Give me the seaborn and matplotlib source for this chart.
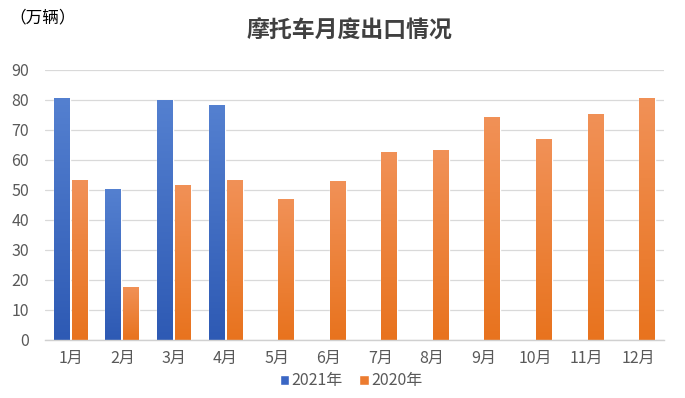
import numpy as np
import pandas as pd
import matplotlib
matplotlib.use("Agg")
import matplotlib.pyplot as plt
import seaborn as sns
from matplotlib.colors import LinearSegmentedColormap

months = ["1月", "2月", "3月", "4月", "5月", "6月", "7月", "8月", "9月", "10月", "11月", "12月"]
series_names = ["2021年", "2020年"]
values_2021 = [80.8, 50.3, 80.0, 78.3]
values_2020 = [53.3, 17.7, 51.7, 53.3, 47.0, 53.0, 62.7, 63.3, 74.3, 67.0, 75.4, 80.7]
yticks = [0, 10, 20, 30, 40, 50, 60, 70, 80, 90]

rows = []
for m, v in zip(months, values_2021):
    rows.append({"month": m, "series": "2021年", "value": v})
for m, v in zip(months, values_2020):
    rows.append({"month": m, "series": "2020年", "value": v})
df = pd.DataFrame(rows)

sns.set_theme(style="white")
plt.rcParams["font.family"] = ["Noto Sans CJK SC", "DejaVu Sans"]

base_colors = {"2021年": "#3A66C4", "2020年": "#EC7C30"}
grad = {
    "2021年": ("#5480D0", "#2E5AB4"),
    "2020年": ("#F19157", "#E8731E"),
}

fig = plt.figure(figsize=(6.85, 3.98), dpi=100)
ax = fig.add_axes([45 / 685, 58 / 398, 619 / 685, 270 / 398])

sns.barplot(data=df, x="month", y="value", hue="series", order=months,
            hue_order=series_names, palette=base_colors, width=0.70, gap=0.114,
            errorbar=None, ax=ax, legend=True, saturation=1)

# gradient fill per bar
for patch in list(ax.patches):
    x0, y0 = patch.get_x(), patch.get_y()
    w, h = patch.get_width(), patch.get_height()
    if not np.isfinite(h) or h <= 0:
        continue
    r, g, b, a = patch.get_facecolor()
    key = "2021年" if b > r else "2020年"
    cmap = LinearSegmentedColormap.from_list("g", [grad[key][1], grad[key][0]])
    img = np.linspace(0, 1, 100).reshape(-1, 1)
    im = ax.imshow(img, extent=[x0, x0 + w, y0, y0 + h], origin="lower",
                   aspect="auto", cmap=cmap, zorder=patch.get_zorder() + 0.1)
    im.set_clip_path(patch)

ax.set_xlim(-0.5, len(months) - 0.5)
ax.set_ylim(0, 90)
ax.set_yticks(yticks)
ax.yaxis.grid(True, color="#D9D9D9", linewidth=0.9)
ax.set_axisbelow(True)
for s in ["top", "right", "left"]:
    ax.spines[s].set_visible(False)
ax.spines["bottom"].set_color("#D0D0D0")
ax.spines["bottom"].set_linewidth(1.0)
ax.tick_params(axis="both", length=0, labelsize=11.5, colors="#595959")
ax.tick_params(axis="y", pad=11.5)
ax.tick_params(axis="x", pad=7)
ax.set_xlabel("")
ax.set_ylabel("")

handles, labels = ax.get_legend_handles_labels()
ax.legend(handles, labels, loc="center", ncol=2, frameon=False, fontsize=11.5,
          handlelength=0.6, handleheight=0.6, handletextpad=0.15, columnspacing=1.0,
          labelcolor="#595959")
leg = ax.get_legend()
leg.set_bbox_to_anchor((351 / 685, 17 / 398), transform=fig.transFigure)

fig.text(9 / 685, 1 - 18 / 398, "（万辆）", fontsize=12, color="#000000", va="center", ha="left")
fig.text(349 / 685, 1 - 31 / 398, "摩托车月度出口情况", fontsize=16.5, color="#404040",
         va="center", ha="center", fontweight="bold")

fig.savefig("out.png", dpi=100, facecolor="white")
